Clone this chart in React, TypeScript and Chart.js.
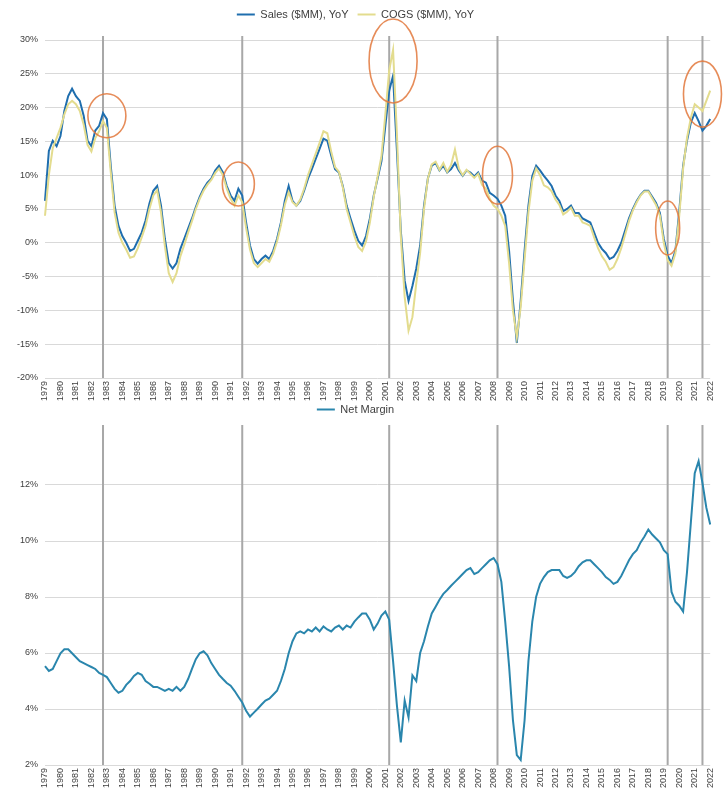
import React, { useEffect, useRef } from "react";
import { Chart, registerables } from "chart.js";
Chart.register(...registerables);

// Year tick labels (one per year, quarterly data underneath)
const YEARS = [
  "1979","1980","1981","1982","1983","1984","1985","1986","1987","1988",
  "1989","1990","1991","1992","1993","1994","1995","1996","1997","1998",
  "1999","2000","2001","2002","2003","2004","2005","2006","2007","2008",
  "2009","2010","2011","2012","2013","2014","2015","2016","2017","2018",
  "2019","2020","2021","2022",
];

// Sales ($MM), YoY %
const SALES_YOY = [
  6.2, 13.6, 15.1, 14.3, 15.8, 19.5, 21.7, 22.8, 21.7, 21.0,
  18.8, 15.1, 14.3, 16.6, 17.3, 19.2, 18.3, 11.4, 5.5, 2.5,
  1.0, 0.0, -1.2, -0.9, 0.3, 1.5, 3.3, 5.8, 7.7, 8.4,
  5.5, 0.6, -3.0, -3.8, -3.0, -0.9, 0.6, 2.1, 3.6, 5.3,
  6.8, 8.0, 8.9, 9.5, 10.7, 11.4, 10.4, 8.4, 7.0, 6.2,
  8.0, 7.0, 3.0, -0.4, -2.4, -3.1, -2.4, -1.9, -2.4, -1.2,
  0.6, 3.0, 6.2, 8.4, 6.2, 5.5, 6.2, 7.7, 9.5, 10.9,
  12.4, 13.9, 15.4, 15.1, 12.9, 10.9, 10.4, 8.4, 5.5, 3.6,
  1.8, 0.3, -0.4, 1.0, 3.6, 7.0, 9.5, 12.1, 17.3, 22.5,
  24.7, 13.6, 1.8, -5.6, -8.6, -6.4, -3.8, -0.4, 5.5, 9.5,
  11.4, 11.8, 10.7, 11.4, 10.4, 10.9, 11.8, 10.7, 9.9, 10.7,
  10.4, 9.8, 10.4, 9.2, 8.9, 7.4, 7.0, 6.5, 5.5, 4.0,
  -1.2, -8.6, -14.8, -8.6, -1.2, 5.5, 9.9, 11.4, 10.7, 9.9,
  9.2, 8.4, 7.0, 6.2, 4.7, 5.0, 5.5, 4.4, 4.4, 3.6,
  3.3, 3.0, 1.5, 0.0, -0.9, -1.5, -2.4, -2.1, -1.2, 0.0,
  1.8, 3.6, 5.0, 6.2, 7.1, 7.7, 7.7, 6.8, 5.9, 4.4,
  0.6, -1.9, -3.0, -1.2, 4.7, 11.4, 15.1, 17.8, 19.2, 18.0,
  16.6, 17.3, 18.3,
];

// COGS ($MM), YoY %
const COGS_YOY = [
  4.0, 10.0, 14.0, 15.5, 17.0, 19.0, 20.5, 21.0, 20.5, 19.5,
  17.5, 14.5, 13.5, 15.5, 16.5, 18.0, 17.0, 10.5, 4.5, 1.5,
  0.0, -1.0, -2.2, -2.0, -0.8, 0.8, 2.5, 5.0, 7.0, 7.8,
  4.5, -0.5, -4.5, -5.8, -4.5, -2.0, -0.3, 1.5, 3.2, 5.0,
  6.5, 7.7, 8.6, 9.3, 10.3, 11.0, 10.0, 8.0, 6.5, 5.5,
  7.0, 6.0, 2.2, -1.0, -3.0, -3.6, -3.0, -2.4, -2.8, -1.6,
  0.2, 2.6, 5.6, 7.5, 6.0, 5.5, 6.4, 8.0, 10.0, 11.6,
  13.2, 14.8, 16.5, 16.2, 13.5, 11.2, 10.5, 8.2, 5.0, 3.0,
  1.0, -0.6, -1.2, 0.2, 3.0, 6.8, 9.8, 12.8, 19.0, 25.5,
  28.5, 16.0, 1.0, -8.0, -13.0, -11.0, -6.0, -1.5, 5.0, 9.5,
  11.6, 12.0, 10.8, 11.8, 10.5, 11.5, 13.8, 11.0, 10.0, 10.8,
  10.2, 9.6, 10.2, 8.6, 8.0, 6.5, 5.5, 5.0, 4.0, 2.5,
  -3.0, -10.0, -14.0, -9.5, -2.5, 4.5, 9.2, 11.0, 10.0, 8.5,
  8.2, 7.6, 6.4, 5.6, 4.2, 4.6, 5.2, 4.0, 4.0, 3.0,
  2.8, 2.5, 0.8, -0.8, -2.0, -2.8, -4.0, -3.6, -2.4, -0.8,
  1.2, 3.2, 4.8, 6.0, 7.0, 7.6, 7.6, 6.6, 5.6, 4.0,
  0.0, -2.6, -3.4, -1.6, 4.0, 11.0, 15.5, 18.5, 20.5, 20.0,
  19.5, 21.0, 22.5,
];

// Net Margin %
const NET_MARGIN = [
  5.53, 5.36, 5.43, 5.71, 5.99, 6.13, 6.13, 5.99, 5.85, 5.71,
  5.64, 5.57, 5.50, 5.43, 5.29, 5.22, 5.14, 4.93, 4.72, 4.58,
  4.65, 4.86, 5.00, 5.18, 5.29, 5.22, 5.00, 4.90, 4.79, 4.79,
  4.72, 4.65, 4.72, 4.65, 4.79, 4.65, 4.79, 5.07, 5.43, 5.78,
  5.99, 6.06, 5.92, 5.64, 5.43, 5.22, 5.07, 4.93, 4.83, 4.65,
  4.44, 4.23, 3.94, 3.73, 3.87, 4.01, 4.16, 4.30, 4.37, 4.51,
  4.65, 5.00, 5.43, 5.99, 6.42, 6.70, 6.77, 6.70, 6.84, 6.77,
  6.91, 6.77, 6.95, 6.84, 6.77, 6.91, 6.98, 6.84, 6.98, 6.91,
  7.12, 7.27, 7.41, 7.41, 7.19, 6.84, 7.05, 7.34, 7.48, 7.19,
  5.71, 4.12, 2.81, 4.30, 3.70, 5.20, 5.00, 6.00, 6.42, 6.95,
  7.41, 7.65, 7.90, 8.11, 8.25, 8.40, 8.54, 8.68, 8.82, 8.96,
  9.03, 8.82, 8.89, 9.03, 9.17, 9.31, 9.39, 9.17, 8.54, 7.12,
  5.53, 3.59, 2.35, 2.18, 3.59, 5.71, 7.12, 8.01, 8.47, 8.71,
  8.89, 8.96, 8.96, 8.96, 8.75, 8.68, 8.75, 8.89, 9.10, 9.24,
  9.31, 9.31, 9.17, 9.03, 8.89, 8.71, 8.61, 8.47, 8.54, 8.75,
  9.03, 9.31, 9.53, 9.67, 9.95, 10.16, 10.41, 10.23, 10.09, 9.95,
  9.67, 9.53, 8.18, 7.83, 7.69, 7.48, 8.89, 10.66, 12.42, 12.85,
  12.07, 11.19, 10.59,
];

// Category indices of the grey vertical marker lines
const EVENT_INDEX = [15, 51, 89, 117, 161, 170];
// Highlight circles on the top chart: [category index, value %]
const CIRCLE_INDEX = [16, 50, 90, 117, 161, 170];
const CIRCLE_VALUE = [18.8, 8.7, 26.9, 10.0, 2.2, 22.0];

const QUARTERS: string[] = [];
YEARS.forEach((y) => {
  for (let q = 1; q <= 4; q++) QUARTERS.push(`${y} Q${q}`);
});
const LABELS = QUARTERS.slice(0, SALES_YOY.length);

const FONT = "'Liberation Sans', Arial, sans-serif";
const TEXT = "#404040";
const GRID = "#d9d9d9";

const eventLinesPlugin = {
  id: "eventLines",
  beforeDatasetsDraw(chart: any) {
    const { ctx, chartArea, scales } = chart;
    ctx.save();
    ctx.strokeStyle = "#a8a8a8";
    ctx.lineWidth = 2;
    EVENT_INDEX.forEach((i) => {
      const px = scales.x.getPixelForValue(i);
      ctx.beginPath();
      ctx.moveTo(px, chartArea.top - 4);
      ctx.lineTo(px, chartArea.bottom);
      ctx.stroke();
    });
    ctx.restore();
  },
};

const CIRCLE_RADII = [
  [19, 22],
  [16, 22],
  [24, 42],
  [15, 29],
  [12, 27],
  [19, 33],
];

const circlesPlugin = {
  id: "circles",
  afterDatasetsDraw(chart: any) {
    const { ctx, scales } = chart;
    ctx.save();
    ctx.strokeStyle = "rgba(226,120,60,0.85)";
    ctx.lineWidth = 1.6;
    CIRCLE_INDEX.forEach((idx, k) => {
      const cx = scales.x.getPixelForValue(idx);
      const cy = scales.y.getPixelForValue(CIRCLE_VALUE[k]);
      const [rx, ry] = CIRCLE_RADII[k];
      ctx.beginPath();
      ctx.ellipse(cx, cy, rx, ry, 0, 0, Math.PI * 2);
      ctx.stroke();
    });
    ctx.restore();
  },
};

// Adds empty space between the legend and the plot area
function legendGap(extra: number) {
  return {
    id: "legendGap",
    beforeInit(chart: any) {
      const lg = chart.legend;
      if (!lg) return;
      const orig = lg.fit.bind(lg);
      lg.fit = function () {
        orig();
        lg.height += extra;
      };
    },
  };
}

function xScale(height: number) {
  return {
    type: "category" as const,
    offset: false,
    grid: { display: false, drawTicks: false },
    border: { display: false },
    ticks: {
      autoSkip: false,
      maxRotation: 90,
      minRotation: 90,
      padding: 3,
      color: TEXT,
      font: { size: 9, family: FONT },
      callback: (_v: any, i: number) => (i % 4 === 0 ? YEARS[i / 4] : null),
    },
    afterFit: (s: any) => {
      s.height = height;
    },
  };
}

export default function App() {
  const topRef = useRef<HTMLCanvasElement>(null);
  const botRef = useRef<HTMLCanvasElement>(null);

  useEffect(() => {
    document.body.style.margin = "0";
    Chart.defaults.font.family = FONT;

    const top = new Chart(topRef.current as HTMLCanvasElement, {
      type: "line",
      data: {
        labels: LABELS,
        datasets: [
          {
            label: "Sales ($MM), YoY",
            data: SALES_YOY,
            borderColor: "#1f6eae",
            backgroundColor: "#1f6eae",
            borderWidth: 2,
            pointRadius: 0,
            order: 2,
          },
          {
            label: "COGS ($MM), YoY",
            data: COGS_YOY,
            borderColor: "#e3dc8e",
            backgroundColor: "#e3dc8e",
            borderWidth: 2,
            pointRadius: 0,
            order: 1,
          },
        ],
      },
      options: {
        animation: false,
        responsive: true,
        maintainAspectRatio: false,
        layout: { padding: { top: 0, right: 13, left: 0, bottom: 0 } },
        plugins: {
          legend: {
            position: "top",
            labels: {
              usePointStyle: true,
              pointStyle: "line",
              pointStyleWidth: 18,
              padding: 9,
              color: TEXT,
              font: { size: 11, family: FONT },
              sort: (a: any, b: any) => a.datasetIndex - b.datasetIndex,
            },
          },
          tooltip: { enabled: false },
        },
        scales: {
          x: xScale(24),
          y: {
            min: -20,
            max: 30,
            grid: { color: GRID, drawTicks: false },
            border: { display: false },
            ticks: {
              stepSize: 5,
              padding: 7,
              color: TEXT,
              font: { size: 9, family: FONT },
              callback: (v: any) => `${v}%`,
            },
            afterFit: (s: any) => {
              s.width = 45;
            },
          },
        },
      },
      plugins: [legendGap(10), eventLinesPlugin, circlesPlugin],
    });

    const bot = new Chart(botRef.current as HTMLCanvasElement, {
      type: "line",
      data: {
        labels: LABELS,
        datasets: [
          {
            label: "Net Margin",
            data: NET_MARGIN,
            borderColor: "#2a86ad",
            backgroundColor: "#2a86ad",
            borderWidth: 2,
            pointRadius: 0,
          },
        ],
      },
      options: {
        animation: false,
        responsive: true,
        maintainAspectRatio: false,
        layout: { padding: { top: 0, right: 13, left: 0, bottom: 0 } },
        plugins: {
          legend: {
            position: "top",
            labels: {
              usePointStyle: true,
              pointStyle: "line",
              pointStyleWidth: 18,
              padding: 2,
              color: TEXT,
              font: { size: 11, family: FONT },
            },
          },
          tooltip: { enabled: false },
        },
        scales: {
          x: xScale(34),
          y: {
            min: 2,
            max: 14,
            grid: { color: GRID, drawTicks: false },
            border: { display: false },
            ticks: {
              stepSize: 2,
              padding: 7,
              color: TEXT,
              font: { size: 9, family: FONT },
              callback: (v: any) => (v >= 14 ? null : `${v}%`),
            },
            afterFit: (s: any) => {
              s.width = 45;
            },
          },
        },
      },
      plugins: [legendGap(4), eventLinesPlugin],
    });

    return () => {
      top.destroy();
      bot.destroy();
    };
  }, []);

  return (
    <div style={{ width: 724, background: "#ffffff" }}>
      <div style={{ position: "relative", width: 724, height: 402 }}>
        <canvas ref={topRef} />
      </div>
      <div style={{ position: "relative", width: 724, height: 397 }}>
        <canvas ref={botRef} />
      </div>
    </div>
  );
}
